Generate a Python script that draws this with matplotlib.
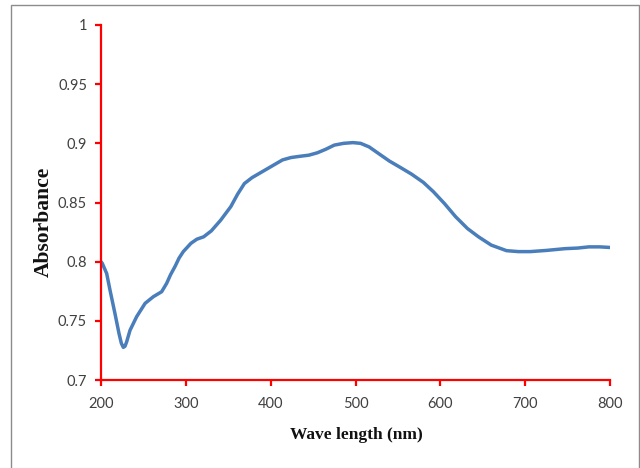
import matplotlib
matplotlib.use("Agg")
import matplotlib.pyplot as plt
from matplotlib.patches import Rectangle

wavelength = [200, 201.5, 206.7, 210.6, 216.5, 221.2, 224, 226.3, 228.3, 230.3, 234.2, 242,
              252, 261.7, 271.5, 277.4, 282, 287.3, 292, 297, 306, 313, 321, 330, 341, 353,
              361, 369, 378, 390, 402, 414, 424, 434, 445, 455, 465, 475, 486, 497, 506, 516,
              528, 540, 552, 566, 580, 592, 605, 618, 632, 645, 660, 678, 692, 706, 725, 747,
              762, 775, 788, 800]
absorbance = [0.800, 0.7986, 0.790, 0.776, 0.756, 0.7394, 0.731, 0.7276, 0.7285, 0.7324,
              0.742, 0.7535, 0.7648, 0.7704, 0.7746, 0.7817, 0.789, 0.796, 0.803, 0.8085,
              0.8155, 0.819, 0.821, 0.826, 0.835, 0.8465, 0.857, 0.866, 0.871, 0.876, 0.881,
              0.886, 0.888, 0.889, 0.890, 0.892, 0.895, 0.8985, 0.900, 0.9006, 0.900, 0.897,
              0.891, 0.885, 0.880, 0.874, 0.867, 0.859, 0.849, 0.838, 0.828, 0.821, 0.814,
              0.8093, 0.8085, 0.8085, 0.8095, 0.811, 0.8115, 0.8125, 0.8125, 0.812]

xticks = [200, 300, 400, 500, 600, 700, 800]
yticks = [0.7, 0.75, 0.8, 0.85, 0.9, 0.95, 1.0]
ytick_labels = ["0.7", "0.75", "0.8", "0.85", "0.9", "0.95", "1"]

fig = plt.figure(figsize=(6.4, 4.68), dpi=100)
fig.patch.set_facecolor("white")
fig.patches.append(Rectangle((11/640, -0.05), 628/640, 1.05 - 5/468, transform=fig.transFigure,
                             fill=False, edgecolor="#8c8c8c", linewidth=1.0))

ax = fig.add_axes([101/640, 1 - 380/468, 509/640, 355/468])
ax.plot(wavelength, absorbance, color="#4A7EBB", linewidth=2.5,
        solid_capstyle="round", solid_joinstyle="round")
ax.set_xlim(200, 800)
ax.set_ylim(0.7, 1.0)
ax.set_xticks(xticks)
ax.set_yticks(yticks)
ax.set_yticklabels(ytick_labels)

for s in ["top", "right"]:
    ax.spines[s].set_visible(False)
for s in ["left", "bottom"]:
    ax.spines[s].set_color("#ff0000")
    ax.spines[s].set_linewidth(1.6)
ax.tick_params(axis="both", colors="#ff0000", direction="out", length=4, width=1.6,
               labelcolor="#404040", labelsize=10.5)
for lab in ax.get_xticklabels() + ax.get_yticklabels():
    lab.set_family("Lato")
ax.tick_params(axis="x", pad=8)
ax.tick_params(axis="y", pad=6)

fig.text(356/640, 1 - 435/468, "Wave length (nm)", ha="center", va="center",
         fontfamily="Liberation Serif", fontweight="bold", fontsize=12.5, color="#111111")
fig.text(44/640, 1 - 222/468, "Absorbance", ha="center", va="center", rotation=90,
         fontfamily="Liberation Serif", fontweight="bold", fontsize=15.5, color="#111111")

fig.savefig("out.png", dpi=100, facecolor="white")
